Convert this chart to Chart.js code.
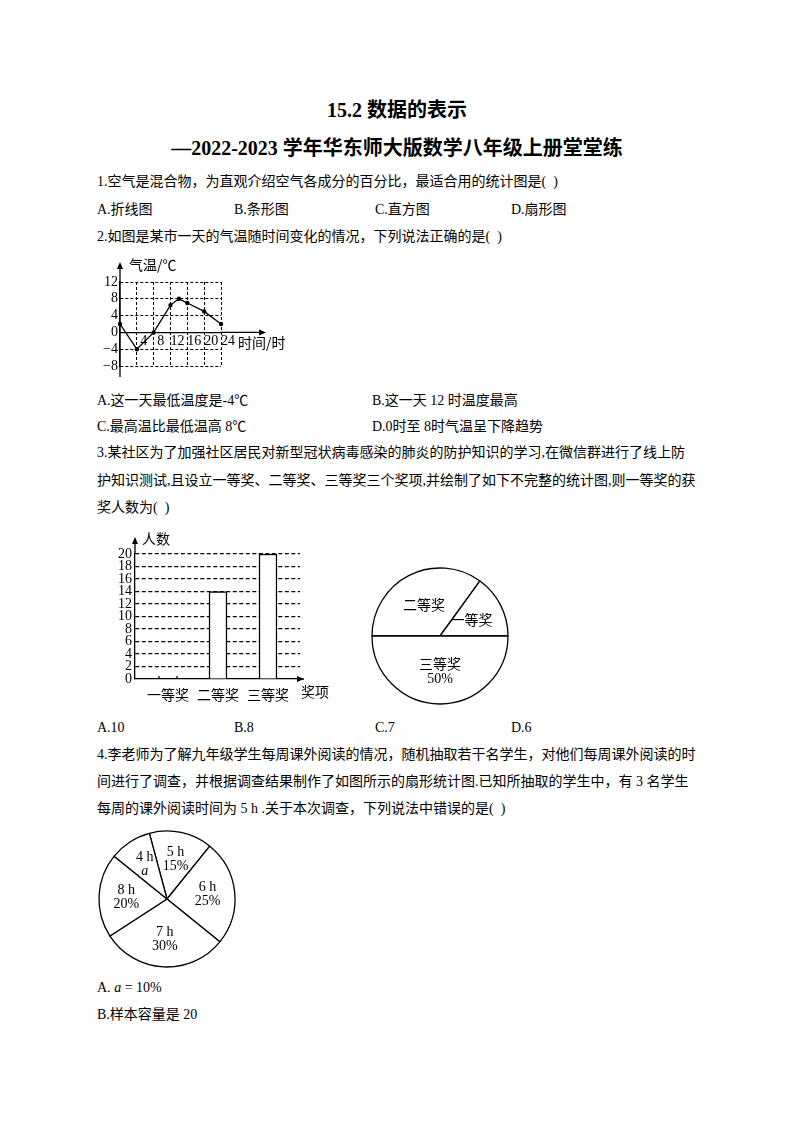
<!DOCTYPE html>
<html><head><meta charset="utf-8">
<script src="https://cdn.jsdelivr.net/npm/chart.js@4.4.1/dist/chart.umd.min.js"></script>
<style>
html,body{margin:0;padding:0;background:#fff;}
body{width:794px;height:1123px;position:relative;overflow:hidden;font-family:"Liberation Serif","Noto Sans CJK SC",serif;color:#000;}
.t{position:absolute;white-space:nowrap;font-size:14px;line-height:20px;}
.h{position:absolute;white-space:nowrap;font-size:20px;font-weight:bold;line-height:26px;left:0;width:794px;text-align:center;}
canvas{position:absolute;}
</style></head><body>
<div class="h" style="top:97px">15.2 数据的表示</div>
<div class="h" style="top:135px">—2022-2023 学年华东师大版数学八年级上册堂堂练</div>
<div class="t" style="left:97px;top:172px">1.空气是混合物，为直观介绍空气各成分的百分比，最适合用的统计图是(&nbsp;&nbsp;)</div>
<div class="t" style="left:97px;top:200px">A.折线图</div>
<div class="t" style="left:234px;top:200px">B.条形图</div>
<div class="t" style="left:375px;top:200px">C.直方图</div>
<div class="t" style="left:511px;top:200px">D.扇形图</div>
<div class="t" style="left:97px;top:227px">2.如图是某市一天的气温随时间变化的情况，下列说法正确的是(&nbsp;&nbsp;)</div>
<canvas id="c1" width="200" height="130" style="left:90px;top:250px;width:200px;height:130px"></canvas>
<div class="t" style="left:97px;top:391px">A.这一天最低温度是-4℃</div>
<div class="t" style="left:372px;top:391px">B.这一天 12 时温度最高</div>
<div class="t" style="left:97px;top:417px">C.最高温比最低温高 8℃</div>
<div class="t" style="left:372px;top:417px">D.0时至 8时气温呈下降趋势</div>
<div class="t" style="left:97px;top:443px">3.某社区为了加强社区居民对新型冠状病毒感染的肺炎的防护知识的学习,在微信群进行了线上防</div>
<div class="t" style="left:97px;top:471px">护知识测试,且设立一等奖、二等奖、三等奖三个奖项,并绘制了如下不完整的统计图,则一等奖的获</div>
<div class="t" style="left:97px;top:498px">奖人数为(&nbsp;&nbsp;)</div>
<canvas id="c2" width="240" height="180" style="left:110px;top:525px;width:240px;height:180px"></canvas>
<canvas id="c3" width="150" height="150" style="left:365px;top:561px;width:150px;height:150px"></canvas>
<div class="t" style="left:97px;top:718px">A.10</div>
<div class="t" style="left:234px;top:718px">B.8</div>
<div class="t" style="left:375px;top:718px">C.7</div>
<div class="t" style="left:511px;top:718px">D.6</div>
<div class="t" style="left:97px;top:745px">4.李老师为了解九年级学生每周课外阅读的情况，随机抽取若干名学生，对他们每周课外阅读的时</div>
<div class="t" style="left:97px;top:772px">间进行了调查，并根据调查结果制作了如图所示的扇形统计图.已知所抽取的学生中，有 3 名学生</div>
<div class="t" style="left:97px;top:799px">每周的课外阅读时间为 5 h .关于本次调查，下列说法中错误的是(&nbsp;&nbsp;)</div>
<canvas id="c4" width="150" height="150" style="left:92px;top:824px;width:150px;height:150px"></canvas>
<div class="t" style="left:97px;top:978px">A. <i>a</i> = 10%</div>
<div class="t" style="left:97px;top:1005px">B.样本容量是 20</div>
<script>
// ---- data ----
const hours = [0, 4, 8, 12, 14, 16, 20, 24];
const temps = [2, -4, 0, 6.5, 8, 7, 5, 2];
const hourTicks = [4, 8, 12, 16, 20, 24];
const tempTicks = [-8, -4, 0, 4, 8, 12];
const tempAxisTitle = '气温/℃';
const timeAxisTitle = '时间/时';

const prizeLabels = ['一等奖', '二等奖', '三等奖'];
const prizeCounts = [null, 14, 20];
const countTicks = [0, 2, 4, 6, 8, 10, 12, 14, 16, 18, 20];
const countAxisTitle = '人数';
const prizeAxisTitle = '奖项';

const piePrizeLabels = ['二等奖', '一等奖', '三等奖'];
const piePrizeShares = [35, 15, 50];
const piePrizeSub = ['', '', '50%'];

const readLabels = ['5 h', '6 h', '7 h', '8 h', '4 h'];
const readShares = [15, 25, 30, 20, 10];
const readSub = ['15%', '25%', '30%', '20%', 'a'];

Chart.defaults.font.family = '"Liberation Serif", "Noto Sans CJK SC", serif';
Chart.defaults.font.size = 14;
Chart.defaults.color = '#000';

function arrowUp(ctx, x, tipY) {
  ctx.beginPath(); ctx.moveTo(x, tipY); ctx.lineTo(x - 3, tipY + 7); ctx.lineTo(x + 3, tipY + 7); ctx.closePath(); ctx.fill();
}
function arrowRight(ctx, tipX, y) {
  ctx.beginPath(); ctx.moveTo(tipX, y); ctx.lineTo(tipX - 7, y - 3); ctx.lineTo(tipX - 7, y + 3); ctx.closePath(); ctx.fill();
}

// ---- chart 1: temperature line ----
const axesPlugin1 = {
  id: 'axes1',
  afterDraw(chart) {
    const {ctx, chartArea: a, scales: {x, y}} = chart;
    const x0 = x.getPixelForValue(0), y0 = y.getPixelForValue(0);
    ctx.save();
    ctx.strokeStyle = '#000'; ctx.fillStyle = '#000'; ctx.lineWidth = 1.3;
    ctx.beginPath(); ctx.moveTo(x0, a.bottom + 11); ctx.lineTo(x0, a.top - 14); ctx.stroke();
    arrowUp(ctx, x0, a.top - 20);
    ctx.beginPath(); ctx.moveTo(a.right, y0); ctx.lineTo(a.right + 40, y0); ctx.stroke();
    arrowRight(ctx, a.right + 45, y0);
    ctx.font = '14px "Noto Sans CJK SC"'; ctx.textAlign = 'left'; ctx.textBaseline = 'middle';
    ctx.fillText(tempAxisTitle, x0 + 9, a.top - 17);
    ctx.fillText(timeAxisTitle, a.right + 17, y0 + 10);
    ctx.restore();
  }
};
new Chart(document.getElementById('c1'), {
  type: 'line',
  data: { datasets: [{
    data: hours.map((h, i) => ({x: h, y: temps[i]})),
    borderColor: '#000', borderWidth: 1.3, pointRadius: 2.2, pointBackgroundColor: '#000',
    pointBorderWidth: 0, tension: 0, clip: false
  }]},
  options: {
    responsive: false, animation: false,
    layout: { padding: { left: 0, right: 69, top: 32, bottom: 14 } },
    plugins: { legend: { display: false }, tooltip: { enabled: false } },
    scales: {
      x: {
        type: 'linear', position: { y: 0 }, min: 0, max: 24,
        afterBuildTicks: s => { s.ticks = hourTicks.map(v => ({value: v})); },
        grid: { color: '#000', lineWidth: 1, drawTicks: false },
        border: { display: true, color: '#000', width: 1.3, dash: [3, 2] },
        ticks: { padding: 1, labelOffset: 7, maxRotation: 0, autoSkip: false, font: { size: 14 } }
      },
      y: {
        type: 'linear', position: 'left', min: -8, max: 12,
        afterFit: s => { s.width = 30; },
        afterBuildTicks: s => { s.ticks = tempTicks.map(v => ({value: v})); },
        grid: { color: c => c.tick && c.tick.value === 0 ? 'rgba(0,0,0,0)' : '#000', lineWidth: 1, drawTicks: false },
        border: { display: true, color: '#000', width: 1.3, dash: [3, 2] },
        ticks: { padding: 2, autoSkip: false, font: { size: 14 },
          callback: v => String(v).replace('-', '−') }
      }
    }
  },
  plugins: [axesPlugin1]
});

// ---- chart 2: prize bar ----
const axesPlugin2 = {
  id: 'axes2',
  afterDraw(chart) {
    const {ctx, chartArea: a, scales: {x, y}} = chart;
    const y0 = y.getPixelForValue(0);
    ctx.save();
    ctx.strokeStyle = '#000'; ctx.fillStyle = '#000'; ctx.lineWidth = 1.3;
    ctx.beginPath(); ctx.moveTo(a.left, a.top); ctx.lineTo(a.left, a.top - 12); ctx.stroke();
    arrowUp(ctx, a.left, a.top - 17);
    ctx.beginPath(); ctx.moveTo(a.right - 2, y0); ctx.lineTo(a.right + 4, y0); ctx.stroke();
    arrowRight(ctx, a.right + 4, y0);
    // small marks where the first bar would stand
    const xc = x.getPixelForValue(0);
    ctx.beginPath();
    ctx.moveTo(xc - 9, y0); ctx.lineTo(xc - 9, y0 - 3);
    ctx.moveTo(xc + 9, y0); ctx.lineTo(xc + 9, y0 - 3);
    ctx.stroke();
    ctx.font = '14px "Noto Sans CJK SC"'; ctx.textBaseline = 'middle';
    ctx.textAlign = 'left';
    ctx.fillText(countAxisTitle, a.left + 7, a.top - 15);
    ctx.textAlign = 'center';
    ctx.fillText(prizeAxisTitle, a.right + 15, y0 + 13);
    ctx.restore();
  }
};
new Chart(document.getElementById('c2'), {
  type: 'bar',
  data: { datasets: [{
    data: prizeCounts.map((v, i) => ({x: i, y: v})),
    backgroundColor: '#fff', borderColor: '#000', borderWidth: 1.5, barThickness: 18
  }]},
  options: {
    responsive: false, animation: false,
    layout: { padding: { left: 0, right: 50, top: 29, bottom: 0 } },
    plugins: { legend: { display: false }, tooltip: { enabled: false } },
    scales: {
      x: {
        type: 'linear', position: 'bottom', min: -0.66, max: 2.64, offset: false,
        afterFit: s => { s.height = 26; },
        afterBuildTicks: s => { s.ticks = prizeLabels.map((l, i) => ({value: i})); },
        grid: { display: false },
        border: { display: true, color: '#000', width: 1.3 },
        ticks: { padding: -1, autoSkip: false, maxRotation: 0, font: { size: 14, family: '"Noto Sans CJK SC"' },
          callback: (v, i) => prizeLabels[i] }
      },
      y: {
        type: 'linear', position: 'left', min: 0, max: 20,
        afterFit: s => { s.width = 25; },
        afterBuildTicks: s => { s.ticks = countTicks.map(v => ({value: v})); },
        grid: { color: c => c.tick && c.tick.value === 0 ? 'rgba(0,0,0,0)' : '#000', lineWidth: 1.2, drawTicks: false },
        border: { display: true, color: '#000', width: 1.3, dash: [4, 2.5] },
        ticks: { padding: 3, autoSkip: false, font: { size: 14 } }
      }
    }
  },
  plugins: [axesPlugin2]
});

// ---- pie label plugin ----
const sliceLabelPlugin = {
  id: 'sliceLabels',
  afterDatasetsDraw(chart, args, opts) {
    const {ctx} = chart;
    const ds = chart.data.datasets[0];
    const meta = chart.getDatasetMeta(0);
    ctx.save();
    ctx.fillStyle = '#000'; ctx.textAlign = 'center'; ctx.textBaseline = 'middle';
    meta.data.forEach((arc, i) => {
      const p = arc.getProps(['x', 'y', 'startAngle', 'endAngle', 'outerRadius']);
      const mid = (p.startAngle + p.endAngle) / 2;
      const r = p.outerRadius * opts.factor;
      const cx = p.x + Math.cos(mid) * r, cy = p.y + Math.sin(mid) * r;
      const main = chart.data.labels[i];
      const sub = ds.sublabels[i];
      const lh = opts.lineGap;
      const y1 = sub ? cy - lh / 2 : cy;
      ctx.font = opts.mainFont;
      ctx.fillText(main, cx, y1);
      if (sub) {
        ctx.font = /^[a-z]$/.test(sub) ? 'italic ' + opts.subFont : opts.subFont;
        ctx.fillText(sub, cx, cy + lh / 2);
      }
    });
    ctx.restore();
  }
};

new Chart(document.getElementById('c3'), {
  type: 'pie',
  data: { labels: piePrizeLabels, datasets: [{
    data: piePrizeShares, sublabels: piePrizeSub,
    backgroundColor: '#fff', borderColor: '#000', borderWidth: 1.3
  }]},
  options: {
    responsive: false, animation: false, rotation: -90, radius: 68,
    plugins: { legend: { display: false }, tooltip: { enabled: false },
      sliceLabels: { factor: 0.52, lineGap: 15, mainFont: '14px "Noto Sans CJK SC"', subFont: '14px "Liberation Serif"' } }
  },
  plugins: [sliceLabelPlugin]
});

new Chart(document.getElementById('c4'), {
  type: 'pie',
  data: { labels: readLabels, datasets: [{
    data: readShares, sublabels: readSub,
    backgroundColor: '#fff', borderColor: '#000', borderWidth: 1.3
  }]},
  options: {
    responsive: false, animation: false, rotation: -15, radius: 68,
    plugins: { legend: { display: false }, tooltip: { enabled: false },
      sliceLabels: { factor: 0.6, lineGap: 14, mainFont: '14px "Liberation Serif"', subFont: '14px "Liberation Serif"' } }
  },
  plugins: [sliceLabelPlugin]
});
</script>
</body></html>
